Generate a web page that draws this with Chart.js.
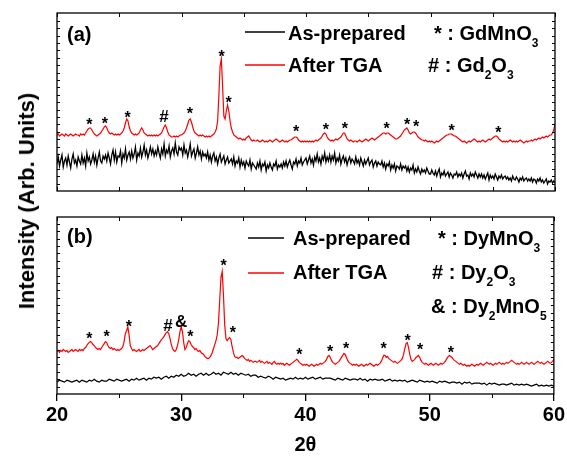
<!DOCTYPE html>
<html>
<head>
<meta charset="utf-8">
<script src="https://cdn.jsdelivr.net/npm/chart.js@4.4.0/dist/chart.umd.min.js"></script>
<style>
  html, body { margin: 0; padding: 0; background: #fff; }
  #wrap { position: relative; width: 567px; height: 458px; overflow: hidden; }
  #chartA { position: absolute; left: 0; top: 0; }
  #chartB { position: absolute; left: 0; top: 200px; }
  #yTitle {
    position: absolute; left: 27px; top: 201px;
    transform: translate(-50%, -50%) rotate(-90deg);
    font: bold 22px Arial, "Liberation Sans", sans-serif;
    white-space: nowrap; color: #000;
  }
</style>
</head>
<body>
<div id="wrap">
  <canvas id="chartA" width="567" height="200"></canvas>
  <canvas id="chartB" width="567" height="258"></canvas>
  <div id="yTitle">Intensity (Arb. Units)</div>
</div>
<script>
const FONT = 'Arial, "Liberation Sans", sans-serif';

// 2theta sampling of the traces
const thetaStart = 20;
const fineStep = 0.1;
const coarseStep = 0.2;
const xTicks = [20, 30, 40, 50, 60];

const seriesNames = ['As-prepared', 'After TGA'];

// (a) GdMnO3, intensities in arbitrary units, 0.1 deg steps
const gdAsPrepared = [
  27,34,25,31,36,24,30,33,26,35,29,23,32,37,28,31,25,34,30,27,
  36,28,33,25,38,30,34,27,31,37,29,35,26,33,39,30,28,35,32,36,
  30,38,33,27,36,41,31,39,29,35,34,40,28,37,33,42,31,36,39,32,
  40,33,37,44,31,38,35,43,34,39,46,36,41,33,38,44,37,42,35,40,
  36,44,38,33,42,37,47,35,41,38,45,34,40,43,37,48,39,36,44,41,
  43,36,46,38,41,34,40,47,35,39,42,33,38,44,36,40,32,39,35,37,
  33,39,31,36,29,35,38,30,34,27,33,37,29,32,35,27,31,34,28,30,
  32,27,34,25,30,28,33,24,31,26,29,23,30,27,25,31,22,28,26,24,
  22,28,24,30,21,27,25,29,20,26,23,28,24,21,27,25,30,22,26,24,
  27,23,29,25,30,24,28,31,26,22,29,27,32,25,30,28,33,26,29,31,
  33,27,31,35,28,32,26,34,30,37,29,33,27,35,31,38,29,34,30,36,
  29,35,31,38,28,33,30,36,27,32,35,29,33,26,31,34,28,32,30,27,
  34,28,31,26,33,29,25,31,27,30,33,26,29,31,24,28,30,25,29,27,
  26,30,24,28,22,27,25,29,21,26,23,27,20,25,24,22,27,21,25,23,
  25,20,24,19,23,21,26,18,22,19,24,20,17,22,19,21,18,23,20,17,
  17,21,18,16,20,15,19,22,14,18,16,20,15,17,19,14,18,16,13,17,
  16,19,14,17,15,18,13,17,20,15,16,12,18,15,17,14,19,16,13,17,
  14,17,13,16,12,15,18,11,16,13,15,12,17,14,11,15,13,16,12,14,
  15,12,14,11,13,10,15,12,11,14,12,9,13,11,14,10,12,13,10,12,
  10,13,9,12,11,8,12,10,13,9,11,8,10,12,7,10,9,11,8,10,
  8
];
const gdAfterTga = [
  56,57,55,56,57,56,55,57,56,55,56,57,56,55,56,57,56,56,55,57,
  56,57,56,58,60,62,63,63,61,59,57,56,55,56,57,58,60,62,64,65,
  63,60,58,57,58,57,56,57,56,57,56,57,58,60,63,68,72,70,64,60,
  58,57,56,57,56,57,58,61,63,61,58,57,56,55,56,55,56,55,56,55,
  56,55,56,57,58,61,64,66,63,59,56,55,54,54,55,54,55,54,55,56,
  56,57,58,60,63,67,71,72,69,64,60,58,57,56,55,56,55,56,55,54,
  55,54,55,54,55,56,57,59,62,70,95,125,132,105,75,72,80,86,80,70,
  63,59,56,55,54,53,52,53,52,51,52,51,53,54,55,53,51,50,51,50,
  50,51,50,49,50,51,50,49,50,49,50,51,50,49,50,51,52,51,50,49,
  50,51,50,49,50,49,50,51,51,52,53,54,54,53,51,50,49,50,49,50,
  49,50,49,50,49,50,49,50,51,50,51,52,53,55,57,58,57,54,52,51,
  50,51,50,51,52,51,52,53,54,56,58,58,55,52,51,50,51,50,49,50,
  50,49,50,51,50,49,50,51,52,51,50,51,52,53,52,51,52,53,54,55,
  56,57,58,58,57,58,58,57,56,55,54,53,52,52,53,54,55,57,59,61,
  62,63,61,58,57,58,59,59,58,56,54,53,52,51,51,50,51,50,49,50,
  49,50,49,48,49,50,49,50,51,52,53,54,55,56,56,57,57,57,56,55,
  55,54,53,52,51,50,49,50,49,48,49,50,49,50,51,52,51,50,49,50,
  49,50,51,50,49,50,51,52,51,52,53,54,55,55,54,52,51,50,49,50,
  49,50,49,50,51,50,49,50,49,50,49,50,51,50,49,48,49,50,49,50,
  50,51,50,51,52,51,52,53,52,53,54,53,54,55,54,55,56,56,58,61,
  67
];

// (b) DyMnO3; as-prepared at 0.2 deg steps, after TGA at 0.1 deg
const dyAsPrepared = [
  12,14,13,12,14,13,12,13,14,12,
  14,13,12,14,13,15,13,12,14,13,
  13,15,14,13,15,14,13,14,15,13,
  15,14,16,14,15,16,14,16,15,17,
  16,17,15,17,18,16,18,17,19,18,
  20,18,19,21,19,20,18,20,21,19,
  21,19,20,22,20,21,19,22,21,20,
  22,20,21,19,21,20,19,20,18,19,
  19,17,18,17,16,18,17,15,17,16,
  15,16,14,15,16,15,17,15,16,15,
  17,15,16,17,15,16,17,15,16,16,
  16,15,14,16,15,14,16,15,14,15,
  15,14,16,14,15,13,15,14,15,14,
  14,15,13,14,15,13,14,13,14,13,
  14,12,13,14,13,12,14,13,12,13,
  12,13,12,11,13,12,13,12,11,12,
  12,11,12,10,12,11,12,10,11,11,
  11,10,11,9,11,10,11,10,9,10,
  10,9,10,11,9,10,9,10,9,10,
  9,8,9,10,8,9,8,9,8,9,
  8
];
const dyAfterTga = [
  43,44,42,44,43,45,44,43,44,42,43,44,45,43,44,45,44,43,45,44,
  45,44,46,47,49,51,52,53,52,50,49,47,46,45,46,45,47,49,51,53,
  52,49,47,46,47,45,46,45,44,45,44,45,46,48,53,61,64,68,60,49,
  46,44,45,44,43,44,45,43,44,45,44,45,46,47,48,49,47,45,46,47,
  48,49,51,53,55,56,58,60,62,63,61,56,50,46,44,43,45,49,55,63,
  68,63,52,45,47,51,54,53,50,48,47,45,46,44,43,44,42,41,40,38,
  37,36,36,37,39,42,46,50,54,60,72,95,118,124,100,70,56,54,56,57,
  55,48,42,38,37,37,36,37,38,39,38,36,35,34,35,33,34,33,32,33,
  33,32,33,34,32,33,32,31,32,33,31,32,31,30,32,33,31,30,31,30,
  31,30,31,29,30,31,30,29,30,31,32,33,34,35,34,32,31,30,29,30,
  29,30,29,28,29,30,29,28,29,30,29,30,31,30,31,32,33,35,38,39,
  37,34,32,31,30,31,32,33,35,37,39,41,40,37,34,32,31,30,29,30,
  29,30,29,28,29,30,29,28,29,30,29,30,31,30,29,28,29,30,29,30,
  31,33,36,39,39,37,38,36,35,34,33,32,33,32,31,32,33,34,36,40,
  46,51,52,47,40,35,33,34,35,37,38,39,37,34,32,31,30,31,30,29,
  30,31,30,29,30,31,30,29,30,31,30,31,32,34,36,38,39,38,37,35,
  34,33,32,31,30,31,30,29,30,29,28,29,28,29,30,29,28,29,30,29,
  30,31,30,29,30,31,32,31,30,31,30,29,30,31,30,31,32,31,30,31,
  30,31,32,31,32,33,34,33,32,31,30,31,30,31,32,31,30,31,32,31,
  30,31,32,31,30,31,32,33,32,31,32,31,30,31,32,33,32,31,32,33,
  35
];

// peak markers (2theta, level in data units, symbol)
const peakThetaA = [22.6, 23.85, 25.68, 28.6, 30.68, 33.23, 33.79, 39.2, 41.6, 43.13, 46.48, 48.13, 48.84, 51.7, 55.45];
const peakLevelA = [70, 71, 77, 75, 81, 138, 92, 63, 65, 66, 66, 70, 68, 64, 62];
const peakMarkA  = ['*','*','*','#','*','*','*','*','*','*','*','*','*','*','*'];

const peakThetaB = [22.6, 23.99, 25.78, 28.94, 30.0, 30.74, 33.41, 34.16, 39.52, 41.98, 43.27, 46.29, 48.22, 49.24, 51.7];
const peakLevelB = [59, 61, 71, 70, 74, 61, 133, 65, 43, 46, 49, 49, 57, 48, 45];
const peakMarkB  = ['*','*','*','#','&','*','*','*','*','*','*','*','*','*','*'];

const phaseLabelsA = ['* : GdMnO_3', '# : Gd_2O_3'];
const phaseLabelsB = ['* : DyMnO_3', '# : Dy_2O_3', '& : Dy_2MnO_5'];

function toPoints(values, step) {
  return values.map((v, i) => ({ x: +(thetaStart + i * step).toFixed(2), y: v }));
}

// text with _n subscripts
function drawRich(ctx, str, x, y) {
  const parts = str.split(/_(\d)/);
  parts.forEach((p, i) => {
    const sub = i % 2 === 1;
    ctx.font = 'bold ' + (sub ? 12 : 20) + 'px ' + FONT;
    ctx.fillText(p, x, sub ? y + 6.5 : y);
    x += ctx.measureText(p).width;
  });
}

const panelDecor = {
  id: 'panelDecor',
  afterDraw(chart, args, opts) {
    const ctx = chart.ctx;
    const a = chart.chartArea;
    const xs = chart.scales.x, ys = chart.scales.y;
    ctx.save();
    ctx.strokeStyle = '#000';
    ctx.fillStyle = '#000';

    // frame
    ctx.lineWidth = 1.3;
    ctx.strokeRect(a.left, a.top, a.right - a.left, a.bottom - a.top);

    // x ticks every 5 degrees
    ctx.lineWidth = 1;
    ctx.beginPath();
    for (let t = 20; t <= 60; t += 5) {
      const px = Math.round(xs.getPixelForValue(t)) + 0.5;
      ctx.moveTo(px, a.top); ctx.lineTo(px, a.top + 4);
      if (opts.innerBottom) {
        ctx.moveTo(px, a.bottom); ctx.lineTo(px, a.bottom - 4);
      } else if (t % 10 !== 0) {
        ctx.moveTo(px, a.bottom); ctx.lineTo(px, a.bottom + 4);
      }
    }
    // small inward ticks on both sides
    for (let y = a.bottom - 7.4; y > a.top + 3; y -= 7.4) {
      const py = Math.round(y) + 0.5;
      ctx.moveTo(a.left, py); ctx.lineTo(a.left + 3, py);
      ctx.moveTo(a.right, py); ctx.lineTo(a.right - 3, py);
    }
    ctx.stroke();

    // peak markers
    ctx.textAlign = 'center';
    ctx.textBaseline = 'alphabetic';
    opts.peakTheta.forEach((t, i) => {
      const mark = opts.peakMark[i];
      ctx.font = 'bold ' + (mark === '*' ? 16 : 17) + 'px ' + FONT;
      const m = ctx.measureText(mark);
      const cx = xs.getPixelForValue(t);
      const cy = ys.getPixelForValue(opts.peakLevel[i]);
      ctx.fillText(mark, cx, cy + (m.actualBoundingBoxAscent - m.actualBoundingBoxDescent) / 2);
    });

    // panel letter
    ctx.textAlign = 'left';
    ctx.font = 'bold 20px ' + FONT;
    ctx.fillText(opts.letter, a.left + 10, a.top + opts.letterY);

    // legend
    const lg = opts.legend;
    chart.data.datasets.forEach((ds, i) => {
      const ly = a.top + lg.lineY[i];
      ctx.strokeStyle = ds.borderColor;
      ctx.lineWidth = 1.5;
      ctx.beginPath();
      ctx.moveTo(a.left + lg.lineX0, ly);
      ctx.lineTo(a.left + lg.lineX1, ly);
      ctx.stroke();
      ctx.fillStyle = '#000';
      ctx.font = 'bold 20px ' + FONT;
      ctx.fillText(ds.label, a.left + lg.textX, a.top + lg.baseY[i]);
    });
    ctx.fillStyle = '#000';
    opts.phases.forEach((s, i) => {
      drawRich(ctx, s, a.left + lg.phaseX[i], a.top + lg.baseY[i]);
    });
    ctx.restore();
  }
};

function lineSet(label, values, step, color, width) {
  return {
    label: label,
    data: toPoints(values, step),
    borderColor: color,
    borderWidth: width,
    pointRadius: 0,
    tension: 0
  };
}

new Chart(document.getElementById('chartA'), {
  type: 'line',
  data: {
    datasets: [
      lineSet(seriesNames[0], gdAsPrepared, fineStep, '#000000', 1.3),
      lineSet(seriesNames[1], gdAfterTga, fineStep, '#ff0000', 1.2)
    ]
  },
  options: {
    responsive: false,
    animation: false,
    layout: { padding: { left: 57, right: 12, top: 13, bottom: 9 } },
    scales: {
      x: { type: 'linear', min: 20, max: 60, display: false },
      y: { min: 0, max: 178, display: false }
    },
    plugins: {
      legend: { display: false },
      tooltip: { enabled: false },
      panelDecor: {
        innerBottom: true,
        letter: '(a)',
        letterY: 28,
        peakTheta: peakThetaA, peakLevel: peakLevelA, peakMark: peakMarkA,
        phases: phaseLabelsA,
        legend: { lineX0: 188, lineX1: 228, textX: 231, lineY: [19, 52], baseY: [27, 59], phaseX: [377, 371] }
      }
    }
  },
  plugins: [panelDecor]
});

new Chart(document.getElementById('chartB'), {
  type: 'line',
  data: {
    datasets: [
      lineSet(seriesNames[0], dyAsPrepared, coarseStep, '#000000', 1.2),
      lineSet(seriesNames[1], dyAfterTga, fineStep, '#ff0000', 1.2)
    ]
  },
  options: {
    responsive: false,
    animation: false,
    layout: { padding: { left: 57, right: 12, top: 17, bottom: 1 } },
    scales: {
      x: {
        type: 'linear', min: 20, max: 60,
        afterBuildTicks: (axis) => { axis.ticks = xTicks.map(v => ({ value: v })); },
        ticks: { font: { family: FONT, size: 20, weight: 'bold' }, color: '#000', padding: 2, maxRotation: 0 },
        grid: { drawOnChartArea: false, drawTicks: true, tickLength: 7, color: '#000', lineWidth: 1.3 },
        border: { display: false },
        title: { display: true, text: '2θ', color: '#000', font: { family: FONT, size: 20, weight: 'bold' }, padding: { top: 4, bottom: 0 } }
      },
      y: { min: 0, max: 179, display: false }
    },
    plugins: {
      legend: { display: false },
      tooltip: { enabled: false },
      panelDecor: {
        innerBottom: false,
        letter: '(b)',
        letterY: 26,
        peakTheta: peakThetaB, peakLevel: peakLevelB, peakMark: peakMarkB,
        phases: phaseLabelsB,
        legend: { lineX0: 191, lineX1: 227, textX: 236, lineY: [21, 56], baseY: [28, 62, 96], phaseX: [381, 375, 374] }
      }
    }
  },
  plugins: [panelDecor]
});
</script>
</body>
</html>
